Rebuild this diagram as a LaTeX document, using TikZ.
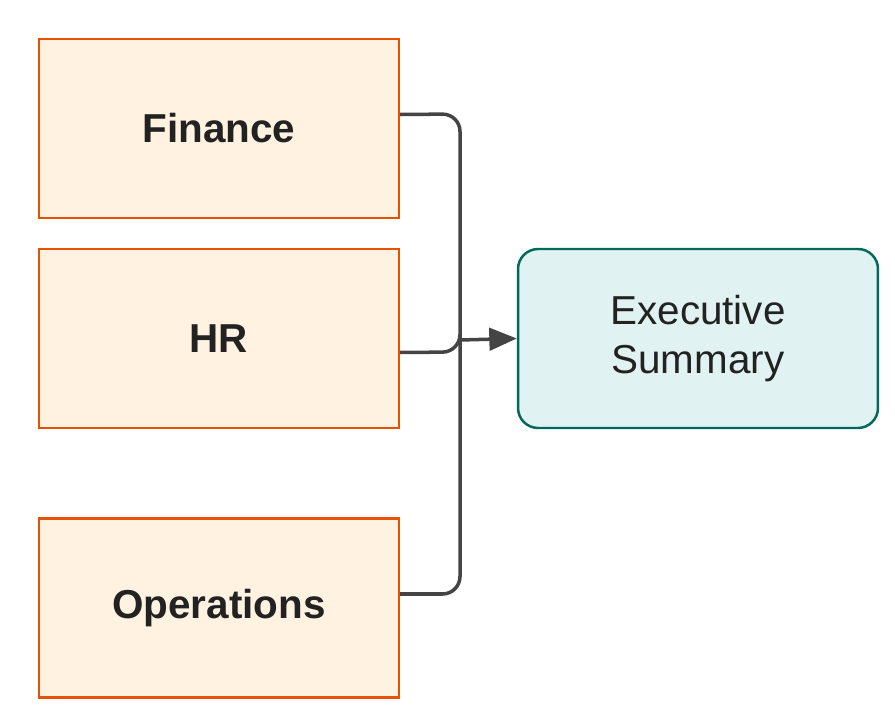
\documentclass[tikz,border=0pt]{standalone}
\usepackage{fontspec}
\setmainfont{Liberation Sans}
\usetikzlibrary{arrows.meta,positioning}
\definecolor{srcfill}{RGB}{255,242,224}
\definecolor{srcdraw}{RGB}{230,81,0}
\definecolor{sumfill}{RGB}{224,242,241}
\definecolor{sumdraw}{RGB}{0,105,92}
\definecolor{linkgray}{RGB}{68,68,68}
\definecolor{textdark}{RGB}{34,34,34}
\tikzset{
  source/.style={draw=srcdraw, fill=srcfill, line width=1.4pt, text=textdark, minimum width=7.2cm, minimum height=3.58cm, font=\fontsize{23}{27}\selectfont\bfseries},
  summary/.style={draw=sumdraw, fill=sumfill, line width=1.4pt, text=textdark, rounded corners=0.4cm, minimum width=7.2cm, minimum height=3.58cm, align=center, font=\fontsize{23}{28}\selectfont},
  link/.style={draw=linkgray, line width=2pt, rounded corners=0.35cm}
}
\begin{document}
\begin{tikzpicture}[x=0.02cm,y=-0.02cm]
\useasboundingbox (0,0) rectangle (895,715);
% source boxes
\node[source] (fin) at (219,128.5) {Finance};
\node[source] (hr) at (219,338.5) {HR};
\node[source] (ops) at (219,608) {Operations};
% target
\node[summary] (sum) at (698,338.5) {Executive\\Summary};
% links
\coordinate (merge) at (460,340);
\draw[link] ([yshift=0.28cm]fin.east) -- (460,114) -- (merge);
\draw[link] ([yshift=-0.28cm]hr.east) -- (460,352) -- (merge);
\draw[link] ([yshift=0.28cm]ops.east) -- (460,594) -- (merge);
\draw[linkgray, line width=2pt, -{Triangle[length=0.55cm,width=0.45cm]}] (merge) -- (sum.west);
\end{tikzpicture}
\end{document}
